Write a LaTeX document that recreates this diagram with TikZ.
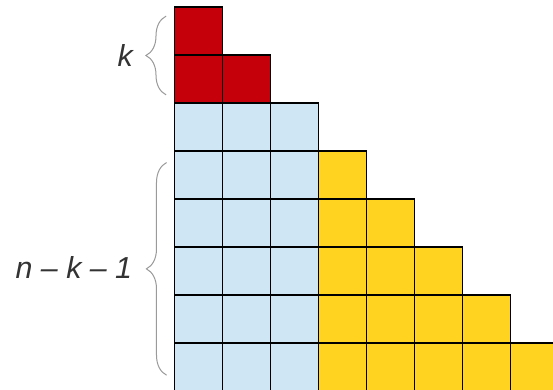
\documentclass[tikz,border=0pt]{standalone}
\usepackage{fontspec}
\setmainfont{Liberation Sans}
\usepackage{xcolor}
\usepackage{tikz}
\usetikzlibrary{decorations.pathreplacing}

\definecolor{cellred}{HTML}{C5000B}
\definecolor{cellblue}{HTML}{CFE7F5}
\definecolor{cellyellow}{HTML}{FFD320}
\definecolor{bracegray}{HTML}{9A9A9A}
\definecolor{labelgray}{HTML}{333333}

\begin{document}
\begin{tikzpicture}[
x=1cm,y=1cm,
redcell/.style={
draw=black,
line width=0.7pt,
fill=cellred
},
bluecell/.style={
draw=black,
line width=0.7pt,
fill=cellblue
},
yellowcell/.style={
draw=black,
line width=0.7pt,
fill=cellyellow
},
rowbrace/.style={
draw=bracegray,
line width=0.6pt,
decorate,
decoration={brace,amplitude=0.42cm}
},
countlabel/.style={
text=labelgray,
font=\fontsize{18}{20}\selectfont\itshape,
inner sep=0pt
}
]

\useasboundingbox (-3.64,0.146) rectangle (7.88,-7.958);

%%%%%%%%%%%%%%%%%%%%%%%%%%%%%%%%%%%%
% Red cells
%%%%%%%%%%%%%%%%%%%%%%%%%%%%%%%%%%%%

\draw[redcell] (0,0) rectangle ++(1,-1);
\foreach \c in {0,1}
\draw[redcell] (\c,-1) rectangle ++(1,-1);

%%%%%%%%%%%%%%%%%%%%%%%%%%%%%%%%%%%%
% Blue cells
%%%%%%%%%%%%%%%%%%%%%%%%%%%%%%%%%%%%

\foreach \r in {2,...,7}
\foreach \c in {0,1,2}
\draw[bluecell] (\c,-\r) rectangle ++(1,-1);

%%%%%%%%%%%%%%%%%%%%%%%%%%%%%%%%%%%%
% Yellow cells
%%%%%%%%%%%%%%%%%%%%%%%%%%%%%%%%%%%%

\foreach \r in {3,...,7}
\foreach \c in {3,...,\r}
\draw[yellowcell] (\c,-\r) rectangle ++(1,-1);

%%%%%%%%%%%%%%%%%%%%%%%%%%%%%%%%%%%%
% Braces and labels
%%%%%%%%%%%%%%%%%%%%%%%%%%%%%%%%%%%%

\coordinate (kbot) at (-0.18,-1.83);
\coordinate (ktop) at (-0.18,-0.19);
\coordinate (rbot) at (-0.17,-7.67);
\coordinate (rtop) at (-0.17,-3.24);

\draw[rowbrace] (kbot)--(ktop);
\draw[rowbrace] (rbot)--(rtop);

\node[countlabel] (klabel) at (-1.03,-1.01) {k};
\node[countlabel,anchor=east] (rlabel) at (-0.88,-5.42) {n – k – 1};

\end{tikzpicture}
\end{document}
